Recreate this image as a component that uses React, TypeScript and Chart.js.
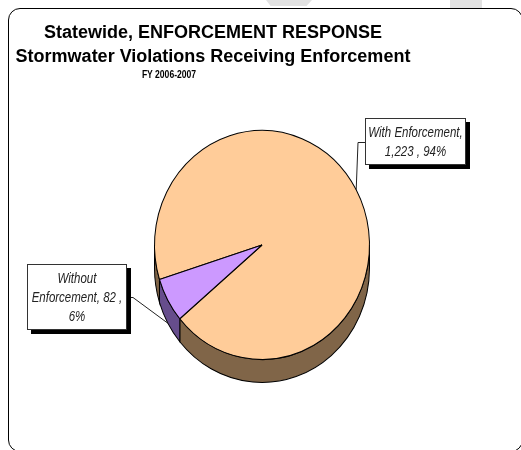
import React, { useRef, useEffect } from 'react';
import Chart from 'chart.js/auto';

// Chart data
const categories = ['With Enforcement', 'Without Enforcement'];
const counts = [1223, 82];
const topColors = ['#FFCC99', '#CC99FF'];
const sideColors = ['#806548', '#664D8C'];

const titleLines = ['Statewide, ENFORCEMENT RESPONSE', 'Stormwater Violations Receiving Enforcement'];
const subtitle = 'FY 2006-2007';

// 3D look: vertical stretch of the top face and the depth of the side wall
const STRETCH = 1.065;
const DEPTH = 23;
const NARROW = 0.82; // horizontal squeeze of the callout text

// Callout boxes (page pixels)
const callouts = [
  { left: 365, top: 118, width: 101, height: 47, anchor: [365, 142], stub: -7 },
  { left: 27, top: 264, width: 100, height: 66, anchor: [127, 297], stub: 6 },
];

const total = counts.reduce((a, b) => a + b, 0);
const pct = (i: number) => Math.round((counts[i] / total) * 100);
const labelText = (i: number) =>
  `${categories[i]}, ${counts[i].toLocaleString('en-US')} , ${pct(i)}%`;

const pie3d = {
  id: 'pie3d',
  beforeDatasetsDraw(chart: any) {
    const ctx = chart.ctx;
    const arcs = chart.getDatasetMeta(0).data;
    if (!arcs.length) return;
    const { x: cx, y: cy } = arcs[0];
    ctx.save();
    ctx.translate(cx, cy);
    ctx.scale(1, STRETCH);
    ctx.translate(-cx, -cy);
    const d = DEPTH / STRETCH;
    arcs.forEach((arc: any, i: number) => {
      const { startAngle, endAngle, outerRadius: r } = arc.getProps(['startAngle', 'endAngle', 'outerRadius'], true);
      for (let n = -1; n <= 2; n++) {
        const lo = n * 2 * Math.PI;
        const a0 = Math.max(startAngle, lo);
        const a1 = Math.min(endAngle, lo + Math.PI);
        if (a1 <= a0) continue;
        ctx.beginPath();
        ctx.arc(cx, cy, r, a0, a1);
        ctx.lineTo(cx + r * Math.cos(a1), cy + r * Math.sin(a1) + d);
        ctx.arc(cx, cy + d, r, a1, a0, true);
        ctx.closePath();
        ctx.fillStyle = sideColors[i];
        ctx.fill();
        ctx.lineWidth = 1;
        ctx.strokeStyle = '#000';
        ctx.stroke();
      }
    });
  },
  afterDatasetsDraw(chart: any) {
    const ctx = chart.ctx;
    ctx.restore();
    const arcs = chart.getDatasetMeta(0).data;
    // leader lines from callouts to slices
    arcs.forEach((arc: any, i: number) => {
      const { x, y, startAngle, endAngle, outerRadius: r } = arc.getProps(['x', 'y', 'startAngle', 'endAngle', 'outerRadius'], true);
      const mid = (startAngle + endAngle) / 2;
      const px = x + r * Math.cos(mid);
      const py = y + STRETCH * r * Math.sin(mid) + (Math.sin(mid) > 0 ? DEPTH : 0);
      const c = callouts[i];
      ctx.save();
      ctx.beginPath();
      ctx.moveTo(c.anchor[0], c.anchor[1] + 0.5);
      ctx.lineTo(c.anchor[0] + c.stub, c.anchor[1] + 0.5);
      ctx.lineTo(px, py);
      ctx.lineWidth = 1;
      ctx.strokeStyle = '#222';
      ctx.stroke();
      ctx.restore();
    });
  },
};

const App: React.FC = () => {
  const canvasRef = useRef<HTMLCanvasElement>(null);
  const chartInstance = useRef<Chart | null>(null);

  useEffect(() => {
    if (!canvasRef.current) return;
    const ctx = canvasRef.current.getContext('2d');
    if (!ctx) return;

    if (chartInstance.current) {
      chartInstance.current.destroy();
    }

    chartInstance.current = new Chart(ctx, {
      type: 'pie',
      data: {
        labels: categories,
        datasets: [
          {
            data: counts,
            backgroundColor: topColors,
            borderColor: '#000',
            borderWidth: 1,
            clip: false,
          } as any,
        ],
      },
      options: {
        responsive: false,
        animation: false,
        events: [],
        rotation: 252.5,
        layout: { padding: { left: 154, right: 151, top: 137, bottom: 97 } },
        plugins: {
          legend: { display: false },
          tooltip: { enabled: false },
          title: { display: false },
        },
      },
      plugins: [pie3d],
    });

    return () => {
      if (chartInstance.current) {
        chartInstance.current.destroy();
        chartInstance.current = null;
      }
    };
  }, []);

  const font = '"Liberation Sans", Arial, sans-serif';

  return (
    <div style={{ position: 'absolute', left: 0, top: 0, width: 521, height: 450, overflow: 'hidden', background: '#fff' }}>
      {/* faint grey marks along the top edge */}
      <div style={{ position: 'absolute', left: 266, top: 0, width: 46, height: 6, background: '#e2e2e2', clipPath: 'polygon(0 0, 100% 0, 88% 100%, 10% 100%)' }} />
      <div style={{ position: 'absolute', left: 450, top: 0, width: 32, height: 8, background: '#e2e2e2' }} />
      <div
        style={{
          position: 'absolute',
          left: 8,
          top: 8,
          width: 515,
          height: 444,
          boxSizing: 'border-box',
          border: '1px solid #000',
          borderRadius: 12,
        }}
      />
      <canvas ref={canvasRef} width={521} height={450} style={{ position: 'absolute', left: 0, top: 0, width: 521, height: 450 }} />
      {titleLines.map((t, i) => (
        <div
          key={t}
          style={{
            position: 'absolute',
            left: 13,
            width: 400,
            top: 23 + i * 24,
            textAlign: 'center',
            font: `bold 18px/18px ${font}`,
            color: '#000',
            whiteSpace: 'nowrap',
          }}
        >
          {t}
        </div>
      ))}
      <div
        style={{
          position: 'absolute',
          left: 99,
          width: 140,
          top: 69,
          textAlign: 'center',
          font: `bold 11px/11px ${font}`,
          color: '#000',
          transform: 'scaleX(0.78)',
          transformOrigin: '50% 0',
        }}
      >
        {subtitle}
      </div>
      {callouts.map((c, i) => (
        <div
          key={categories[i]}
          style={{
            position: 'absolute',
            left: c.left,
            top: c.top,
            width: c.width,
            height: c.height,
            boxSizing: 'border-box',
            border: '1px solid #333',
            background: '#fff',
            boxShadow: '4px 4px 0 #000',
            paddingTop: 4,
          }}
        >
          <div
            style={{
              width: (c.width - 4) / NARROW,
              marginLeft: 1,
              transform: `scaleX(${NARROW})`,
              transformOrigin: '0 0',
              textAlign: 'center',
              font: `italic 14px/19px ${font}`,
              color: '#222',
            }}
          >
            {labelText(i)}
          </div>
        </div>
      ))}
    </div>
  );
};

export default App;
